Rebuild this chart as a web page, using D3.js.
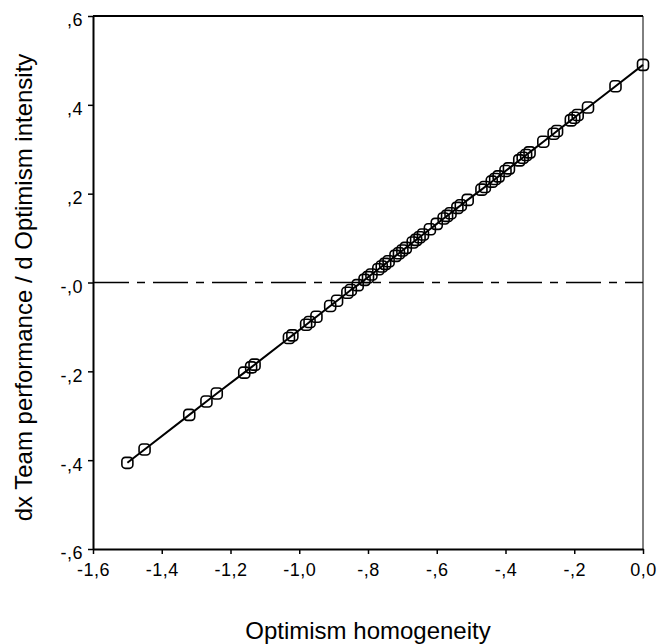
<!DOCTYPE html>
<html>
<head>
<meta charset="utf-8">
<script src="https://cdn.jsdelivr.net/npm/d3@7"></script>
<style>
  body { margin: 0; background: #fff; }
  text { font-family: "Liberation Sans", Arial, sans-serif; fill: #000; }
</style>
</head>
<body>
<div id="chart"></div>
<script>
var width = 659;
var height = 644;

// homogeneity values (x) and the derivative (y)
var homogeneity = [-1.50, -1.45, -1.32, -1.27, -1.24, -1.16, -1.14, -1.13, -1.03, -1.02,
  -0.98, -0.97, -0.95, -0.91, -0.89, -0.86, -0.85, -0.83, -0.81, -0.80,
  -0.79, -0.77, -0.76, -0.75, -0.74, -0.72, -0.71, -0.70, -0.69, -0.67,
  -0.66, -0.65, -0.64, -0.62, -0.60, -0.58, -0.57, -0.56, -0.54, -0.53,
  -0.51, -0.47, -0.46, -0.44, -0.43, -0.42, -0.40, -0.39, -0.36, -0.35,
  -0.34, -0.33, -0.29, -0.26, -0.25, -0.21, -0.20, -0.19, -0.16, -0.08, 0.00];
var slope = [-0.406, -0.376, -0.298, -0.268, -0.250, -0.203, -0.191, -0.185, -0.125, -0.119,
  -0.095, -0.089, -0.077, -0.053, -0.041, -0.023, -0.017, -0.006, 0.006, 0.012,
  0.018, 0.030, 0.036, 0.042, 0.048, 0.060, 0.066, 0.072, 0.078, 0.090,
  0.096, 0.102, 0.108, 0.120, 0.132, 0.144, 0.150, 0.156, 0.168, 0.174,
  0.186, 0.209, 0.215, 0.227, 0.233, 0.239, 0.251, 0.257, 0.275, 0.281,
  0.287, 0.293, 0.317, 0.335, 0.341, 0.365, 0.371, 0.377, 0.394, 0.442, 0.490];

var xTicks = [-1.6, -1.4, -1.2, -1.0, -0.8, -0.6, -0.4, -0.2, 0.0];
var xTickLabels = ["-1,6", "-1,4", "-1,2", "-1,0", "-,8", "-,6", "-,4", "-,2", "0,0"];
var yTicks = [0.6, 0.4, 0.2, 0.0, -0.2, -0.4, -0.6];
var yTickLabels = [",6", ",4", ",2", "-,0", "-,2", "-,4", "-,6"];

var data = homogeneity.map(function (x, i) {
  return { x: x, y: slope[i] };
});

var xScale = d3.scaleLinear().domain([-1.6, 0]).range([93, 643]);
var yScale = d3.scaleLinear().domain([-0.6, 0.6]).range([549, 16]);

var svg = d3.select("#chart")
  .append("svg")
  .attr("width", width)
  .attr("height", height);

// frame: top and right
svg.append("line")
  .attr("x1", xScale(-1.6)).attr("x2", xScale(0))
  .attr("y1", yScale(0.6)).attr("y2", yScale(0.6))
  .attr("stroke", "#000").attr("stroke-width", 2);
svg.append("line")
  .attr("x1", xScale(0)).attr("x2", xScale(0))
  .attr("y1", yScale(0.6)).attr("y2", yScale(-0.6))
  .attr("stroke", "#000").attr("stroke-width", 1);

// zero reference line
svg.append("line")
  .attr("x1", xScale(-1.6)).attr("x2", xScale(0))
  .attr("y1", yScale(0)).attr("y2", yScale(0))
  .attr("stroke", "#000")
  .attr("stroke-width", 1.7)
  .attr("stroke-dasharray", "35,8,8,8")
  .attr("stroke-dashoffset", -1);

// connecting line
var line = d3.line()
  .x(function (d) { return xScale(d.x); })
  .y(function (d) { return yScale(d.y); });

svg.append("path")
  .datum(data)
  .attr("d", line)
  .attr("fill", "none")
  .attr("stroke", "#000")
  .attr("stroke-width", 2);

// markers
svg.selectAll("rect.pt")
  .data(data)
  .enter()
  .append("rect")
  .attr("class", "pt")
  .attr("x", function (d) { return xScale(d.x) - 5.5; })
  .attr("y", function (d) { return yScale(d.y) - 5.5; })
  .attr("width", 11)
  .attr("height", 11)
  .attr("rx", 3.5)
  .attr("fill", "none")
  .attr("stroke", "#000")
  .attr("stroke-width", 1.6);

// axes
var xAxis = d3.axisBottom(xScale)
  .tickValues(xTicks)
  .tickSize(5)
  .tickPadding(9)
  .tickSizeOuter(0)
  .tickFormat(function (d, i) { return xTickLabels[i]; });

var yAxis = d3.axisLeft(yScale)
  .tickValues(yTicks)
  .tickSize(5)
  .tickPadding(5)
  .tickSizeOuter(0)
  .tickFormat(function (d, i) { return yTickLabels[i]; });

var gx = svg.append("g")
  .attr("transform", "translate(0," + yScale(-0.6) + ")")
  .call(xAxis);
var gy = svg.append("g")
  .attr("transform", "translate(" + xScale(-1.6) + ",0)")
  .call(yAxis);

[gx, gy].forEach(function (g) {
  g.select(".domain").attr("stroke-width", 2);
  g.selectAll(".tick line").attr("stroke-width", 1.5);
  g.selectAll(".tick text")
    .attr("font-family", "Liberation Sans, Arial, sans-serif")
    .attr("font-size", 18)
    .attr("letter-spacing", 0.5);
});
gy.selectAll(".tick text").attr("dy", "0.55em");

// axis titles
svg.append("text")
  .attr("x", (xScale(-1.6) + xScale(0)) / 2)
  .attr("y", 639)
  .attr("text-anchor", "middle")
  .style("font-size", "24px")
  .text("Optimism homogeneity");

svg.append("text")
  .attr("transform", "translate(32," + ((yScale(0.6) + yScale(-0.6)) / 2 + 5) + ") rotate(-90)")
  .attr("text-anchor", "middle")
  .style("font-size", "24px")
  .text("dx Team performance / d Optimism intensity");
</script>
</body>
</html>
